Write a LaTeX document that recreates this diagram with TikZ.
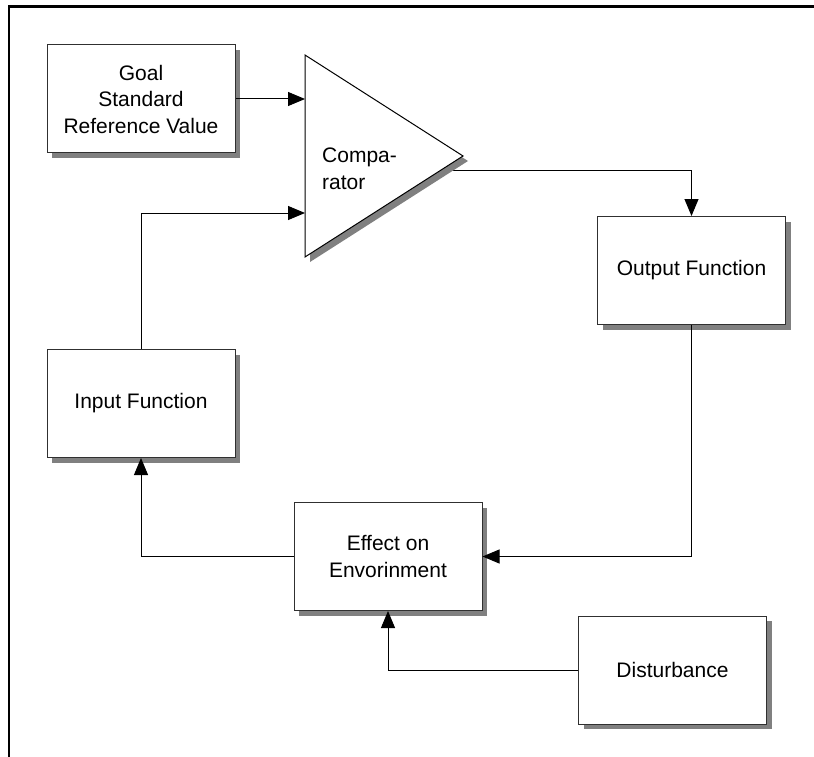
\documentclass[tikz,border=0pt]{standalone}
\usepackage{fontspec}
\setmainfont{Liberation Sans}
\usetikzlibrary{arrows.meta,shadows}
\definecolor{shadowgray}{HTML}{808080}
\definecolor{edgegray}{HTML}{303030}
\tikzset{
  blockbox/.style={draw=edgegray, line width=1pt, fill=white,
    minimum width=188pt, minimum height=108pt, inner sep=0pt,
    align=center, font=\fontsize{21}{26.5}\selectfont,
    general shadow={fill=shadowgray, shadow xshift=5pt, shadow yshift=-5pt}},
  flow/.style={line width=1pt, draw=black,
    -{Triangle[length=17pt,width=14pt]}},
}
\begin{document}
\begin{tikzpicture}[x=1pt,y=-1pt]
\useasboundingbox (0,0) rectangle (814,757);

% outer frame (top and left edges only)
\draw[line width=2.6pt] (9,757) -- (9,6.8) -- (814,6.8);

% comparator corners and ports
\coordinate (cmpTop) at (305,55);
\coordinate (cmpTip) at (463,156);
\coordinate (cmpBot) at (305,257);
\coordinate (cmpIn1) at (305,99);
\coordinate (cmpIn2) at (305,213);
\coordinate (cmpOut) at (445,171);

% blocks
\node[blockbox] (goal)    at (141,99)      {Goal\\Standard\\Reference Value};
\node[blockbox] (output)  at (691.5,270.5) {Output Function};
\node[blockbox] (input)   at (141,403.5)   {Input Function};
\node[blockbox] (effect)  at (388,556.5)   {Effect on\\Envorinment};
\node[blockbox] (disturb) at (672.5,670)   {Disturbance};

% comparator output line, partly hidden under the triangle's shadow
\draw[flow] (cmpOut) -| (output.north);

% comparator triangle with its shadow
\fill[shadowgray] ([shift={(5,5)}]cmpTop) -- ([shift={(5,5)}]cmpTip) -- ([shift={(5,5)}]cmpBot) -- cycle;
\draw[draw=black, line width=1pt, fill=white, line join=miter] (cmpTop) -- (cmpTip) -- (cmpBot) -- cycle;
\node[anchor=west, align=left, inner sep=0pt, font=\fontsize{21}{26.5}\selectfont]
  (cmplabel) at (322,169) {Compa-\\rator};

% signal paths
\draw[flow] (goal.east) -- (cmpIn1);
\draw[flow] (input.north) |- (cmpIn2);
\draw[flow] (output.south) |- (effect.east);
\draw[flow] (effect.west) -| (input.south);
\draw[flow] (disturb.west) -| (effect.south);
\end{tikzpicture}
\end{document}
